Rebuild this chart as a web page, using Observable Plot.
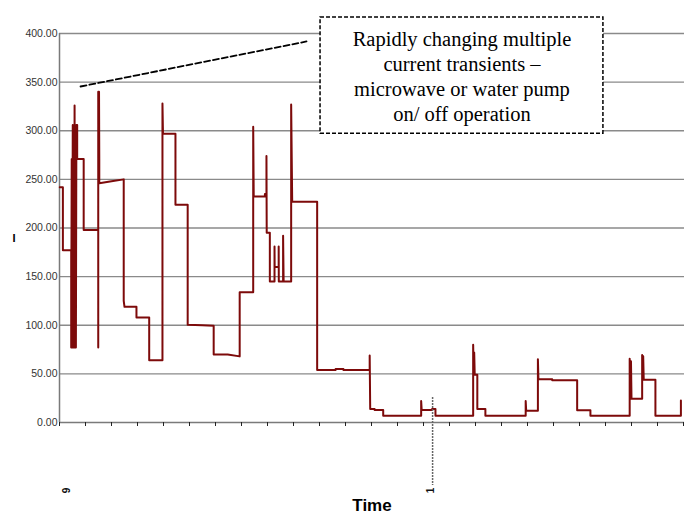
<!DOCTYPE html>
<html><head><meta charset="utf-8">
<script src="https://cdn.jsdelivr.net/npm/d3@7"></script>
<script src="https://cdn.jsdelivr.net/npm/@observablehq/plot@0.6"></script>
<style>
html,body{margin:0;padding:0;background:#fff;}
#chart svg{display:block;}
</style></head><body><div id="chart"></div>
<script>
// Time (tick units) and current readings of the stepped trace
const timeX = [0.01,0.13,0.13,0.45,0.45,0.47,0.49,0.51,0.53,0.55,0.57,0.58,0.59,0.61,0.63,0.65,0.66,0.68,0.68,0.93,0.93,1.49,1.49,1.49,1.51,1.52,1.53,1.53,2.0,2.47,2.47,2.5,2.96,2.96,3.45,3.45,3.96,3.96,3.98,4.46,4.46,4.93,4.93,5.49,5.93,5.93,6.47,6.93,6.93,7.45,7.45,7.47,7.90,7.90,7.96,7.96,7.97,8.09,8.09,8.27,8.27,8.275,8.43,8.43,8.435,8.60,8.60,8.62,8.91,8.91,8.95,9.91,9.91,10.62,10.62,10.92,10.92,11.93,11.93,11.95,12.12,12.12,12.45,12.45,13.91,13.91,13.93,14.33,14.33,14.46,14.46,15.91,15.91,15.93,15.95,15.97,16.07,16.07,16.38,16.38,17.93,17.93,17.95,18.40,18.40,18.42,18.95,18.95,19.91,19.91,20.42,20.42,21.93,21.93,21.96,21.98,22.0,22.41,22.41,22.43,22.45,22.47,22.92,22.92,23.9,23.9];
const currentA = [242,242,177,177,77,271,77,306,77,306,77,326,77,306,77,306,271,306,271,271,198,198,77,340,271,340,271,246,248,250,125,119,119,108,108,64,64,328,297,297,224,224,100.5,100,99.5,70,70,68,134,134,304,232.5,232.5,235,235,274,195,195,145,145,181,160,160,181,145,145,192,145,145,327,227,227,54,54,55,55,54,54,69,14,14,12.8,12.8,7,7,22,12.8,12.8,14,14,7,7,80,50,72,49,49,14,14,7,7,22,12,12,65,44.5,44.5,43.5,43.5,12.5,12.5,7,7,65.5,24.5,63,24.5,24.5,69.5,44,68,44,44,7,7,22.5];

const yTicks = [0,50,100,150,200,250,300,350,400];
const xTicks = [0,1,2,3,4,5,6,7,8,9,10,11,12,13,14,15,16,17,18,19,20,21,22,23,24];
const xTickLabels = ["9","1"];
const xTickLabelPos = [0.27,14.27];
const markerX = [14.35];
const markerRange = [25.7,-64.8];

const annotationLines = ["Rapidly changing multiple","current transients –","microwave or water pump","on/ off operation"];
const annotationBox = [{x1:10.04,x2:20.92,y1:297,y2:416.5}];
const annotationAt = [{x:15.48,y:357}];
const leaderX = [0.81,9.5];
const leaderY = [345.5,391.8];

const data = timeX.map((t,i)=>({t, a: currentA[i]}));
const leader = leaderX.map((x,i)=>({x, y: leaderY[i]}));

const chart = Plot.plot({
  width:684, height:516,
  marginLeft:59, marginRight:0, marginTop:33, marginBottom:94,
  x:{domain:[0,625/26], axis:null},
  y:{domain:[0,400], axis:null},
  style:{fontFamily:"'Liberation Sans', Arial, sans-serif", background:"white", overflow:"visible"},
  marks:[
    Plot.ruleY(yTicks.filter(v=>v>0), {stroke:"#8a8a8a", strokeWidth:1.3}),
    Plot.ruleY([0], {stroke:"#7a7a7a", strokeWidth:1.5}),
    Plot.ruleX([0], {y1:0, y2:400, stroke:"#7a7a7a", strokeWidth:1.5}),
    Plot.axisX({ticks:xTicks, tickSize:4, tickFormat:()=>"", stroke:"#222", label:null}),
    Plot.axisY({ticks:yTicks, tickSize:0, tickPadding:2, tickFormat:d3.format(".2f"), fontSize:10.5, fill:"#333", label:null}),
    Plot.line(data, {x:"t", y:"a", stroke:"#7d0a0a", strokeWidth:2}),
    Plot.ruleX(markerX, {x:d=>d, y1:markerRange[0], y2:markerRange[1], stroke:"#666", strokeWidth:1.5, strokeDasharray:"2,1"}),
    Plot.text(xTickLabels, {x:(d,i)=>xTickLabelPos[i], text:d=>d, frameAnchor:"bottom", lineAnchor:"middle", dy:68, rotate:-90, fontSize:10, fontWeight:"bold", fill:"#111"}),
    Plot.text(["Time"], {text:d=>d, frameAnchor:"bottom", lineAnchor:"middle", dy:83, fontSize:17, fontWeight:"bold", fill:"#000"}),
    Plot.text(["I"], {text:d=>d, frameAnchor:"left", dx:-47, dy:10, fontSize:11, fontWeight:"bold", fill:"#000"}),
    Plot.line(leader, {x:"x", y:"y", stroke:"#000", strokeWidth:1.8, strokeDasharray:"6,3"}),
    Plot.rect(annotationBox, {x1:"x1", x2:"x2", y1:"y1", y2:"y2", fill:"white", stroke:"#000", strokeWidth:1.5, strokeDasharray:"4,2"}),
    Plot.text(annotationAt, {x:"x", y:"y", text:()=>annotationLines.join("\n"), fontFamily:"'Liberation Serif', 'Times New Roman', serif", fontSize:20.5, lineHeight:1.22, fill:"#000"})
  ]
});
document.getElementById("chart").appendChild(chart);
</script></body></html>
